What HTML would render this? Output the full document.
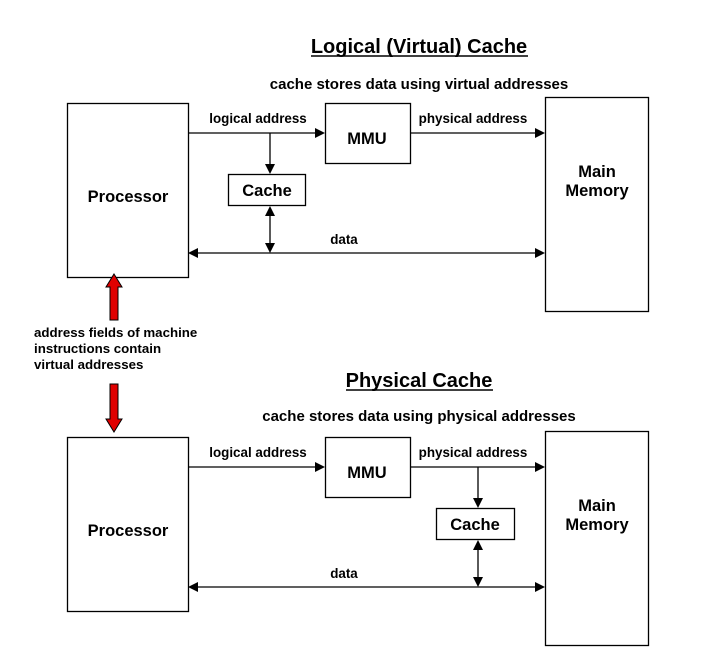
<!DOCTYPE html>
<html><head><meta charset="utf-8"><style>
html,body{margin:0;padding:0;background:#fff;}
svg{display:block;}
text{font-family:"Liberation Sans",Arial,sans-serif;font-weight:bold;fill:#000;}
</style></head><body>
<svg width="706" height="662" viewBox="0 0 706 662" xmlns="http://www.w3.org/2000/svg">
<g stroke="#000" stroke-width="1.3" fill="none">
<rect x="67.5" y="103.5" width="121" height="174"/>
<rect x="325.5" y="103.5" width="85" height="60"/>
<rect x="228.5" y="174.5" width="77" height="31"/>
<rect x="545.5" y="97.5" width="103" height="214"/>
<line x1="188" y1="133" x2="316" y2="133"/>
<line x1="270" y1="133" x2="270" y2="165"/>
<line x1="410" y1="133" x2="536" y2="133"/>
<line x1="198" y1="253" x2="536" y2="253"/>
<line x1="270" y1="215" x2="270" y2="244"/>
<rect x="67.5" y="437.5" width="121" height="174"/>
<rect x="325.5" y="437.5" width="85" height="60"/>
<rect x="436.5" y="508.5" width="78" height="31"/>
<rect x="545.5" y="431.5" width="103" height="214"/>
<line x1="188" y1="467" x2="316" y2="467"/>
<line x1="410" y1="467" x2="536" y2="467"/>
<line x1="478" y1="467" x2="478" y2="499"/>
<line x1="198" y1="587" x2="536" y2="587"/>
<line x1="478" y1="549" x2="478" y2="578"/>
</g>
<g fill="#000">
<polygon points="325,133 315,128 315,138"/>
<polygon points="270,174 265,164 275,164"/>
<polygon points="545,133 535,128 535,138"/>
<polygon points="188,253 198,248 198,258"/>
<polygon points="545,253 535,248 535,258"/>
<polygon points="270,206 265,216 275,216"/>
<polygon points="270,253 265,243 275,243"/>
<polygon points="325,467 315,462 315,472"/>
<polygon points="545,467 535,462 535,472"/>
<polygon points="478,508 473,498 483,498"/>
<polygon points="188,587 198,582 198,592"/>
<polygon points="545,587 535,582 535,592"/>
<polygon points="478,540 473,550 483,550"/>
<polygon points="478,587 473,577 483,577"/>
</g>
<g fill="#e00000" stroke="#000" stroke-width="1">
<polygon points="114,274 122,287 118,287 118,320 110,320 110,287 106,287"/>
<polygon points="114,432 122,419 118,419 118,384 110,384 110,419 106,419"/>
</g>
<text x="419" y="53" font-size="20" text-anchor="middle">Logical (Virtual) Cache</text>
<line x1="311" y1="56" x2="528" y2="56" stroke="#000" stroke-width="1.5"/>
<text x="419" y="89" font-size="15" text-anchor="middle">cache stores data using virtual addresses</text>
<text x="258" y="123" font-size="13.4" text-anchor="middle">logical address</text>
<text x="473" y="123" font-size="13.4" text-anchor="middle">physical address</text>
<text x="367" y="144" font-size="16.5" text-anchor="middle">MMU</text>
<text x="267" y="196" font-size="16.5" text-anchor="middle">Cache</text>
<text x="128" y="202" font-size="16.5" text-anchor="middle">Processor</text>
<text x="597" y="177" font-size="16.5" text-anchor="middle">Main</text>
<text x="597" y="196" font-size="16.5" text-anchor="middle">Memory</text>
<text x="344" y="244" font-size="13.4" text-anchor="middle">data</text>
<text x="34" y="337" font-size="13.3">address fields of machine</text>
<text x="34" y="353" font-size="13.3">instructions contain</text>
<text x="34" y="369" font-size="13.3">virtual addresses</text>
<text x="419" y="387" font-size="20" text-anchor="middle">Physical Cache</text>
<line x1="346" y1="390" x2="493" y2="390" stroke="#000" stroke-width="1.5"/>
<text x="419" y="421" font-size="15" text-anchor="middle">cache stores data using physical addresses</text>
<text x="258" y="457" font-size="13.4" text-anchor="middle">logical address</text>
<text x="473" y="457" font-size="13.4" text-anchor="middle">physical address</text>
<text x="367" y="478" font-size="16.5" text-anchor="middle">MMU</text>
<text x="475" y="530" font-size="16.5" text-anchor="middle">Cache</text>
<text x="128" y="536" font-size="16.5" text-anchor="middle">Processor</text>
<text x="597" y="511" font-size="16.5" text-anchor="middle">Main</text>
<text x="597" y="530" font-size="16.5" text-anchor="middle">Memory</text>
<text x="344" y="578" font-size="13.4" text-anchor="middle">data</text>
</svg>
</body></html>
